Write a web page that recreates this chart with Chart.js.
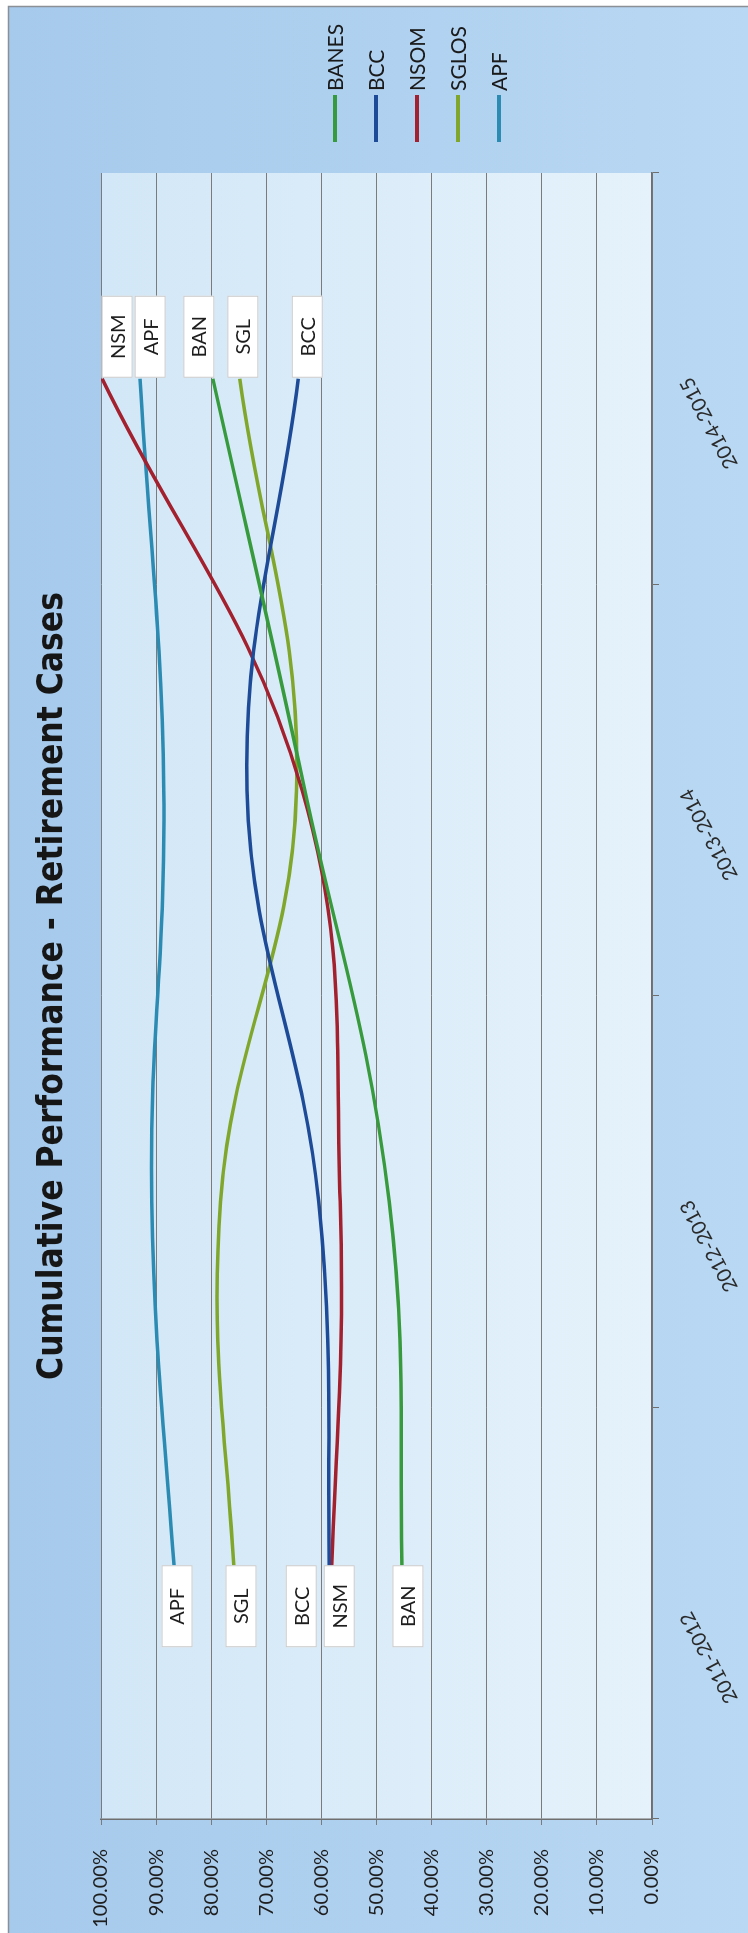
<!DOCTYPE html>
<html>
<head>
<meta charset="utf-8">
<title>Cumulative Performance - Retirement Cases</title>
<script src="https://cdn.jsdelivr.net/npm/chart.js@4.4.1/dist/chart.umd.min.js"></script>
<style>
  html, body { margin: 0; padding: 0; background: #ffffff; width: 748px; height: 1933px; overflow: hidden; }
  /* The chart is laid out landscape and turned a quarter turn anticlockwise onto the portrait page */
  #stage { position: absolute; left: 0; top: 0; width: 1933px; height: 748px;
           transform-origin: 0 0; transform: translateY(1933px) rotate(-90deg); }
  canvas { display: block; }
</style>
</head>
<body>
<div id="stage"><canvas id="chart" width="1933" height="748"></canvas></div>
<script>
// ---- data ----
const categories = ['2011-2012', '2012-2013', '2013-2014', '2014-2015'];
const seriesNames = ['BANES', 'BCC', 'NSOM', 'SGLOS', 'APF'];
const tagNames = ['BAN', 'BCC', 'NSM', 'SGL', 'APF'];
const banes = [45.2, 47.7, 63.0, 79.7];
const bcc   = [58.4, 60.5, 73.5, 64.2];
const nsom  = [58.4, 56.6, 63.5, 99.8];
const sglos = [75.5, 78.3, 64.5, 74.8];
const apf   = [86.2, 90.8, 88.6, 92.9];
const percentTicks = [0, 10, 20, 30, 40, 50, 60, 70, 80, 90, 100];

// ---- styling ----
const lineColors = ['#379A3C', '#1E4B97', '#A3212E', '#80A72C', '#2C8BB2'];
// vertical nudges (px) that keep the end tags from overlapping
const startNudge = [5, -29, 9, 5, 0];
const endNudge = [-14, 9, 15, 3, 10];
const labelFont = 'Lato, "Open Sans", "Liberation Sans", sans-serif';
const titleFont = '"Liberation Sans Narrow", "DejaVu Sans Condensed", "Liberation Sans", sans-serif';
const titleText = 'Cumulative Performance - Retirement Cases';

const seriesValues = [banes, bcc, nsom, sglos, apf];

const backdrop = {
  id: 'backdrop',
  beforeDraw(chart) {
    const { ctx, width, height, chartArea: a } = chart;
    ctx.save();
    ctx.fillStyle = '#ffffff';
    ctx.fillRect(0, 0, width, height);
    const g = ctx.createLinearGradient(0, 8, 0, height);
    g.addColorStop(0, '#A6CAEC');
    g.addColorStop(1, '#B9D8F3');
    ctx.fillStyle = g;
    ctx.fillRect(0, 8, width - 6, height - 8);
    ctx.strokeStyle = '#8b9097';
    ctx.lineWidth = 1.5;
    ctx.beginPath();
    ctx.moveTo(0, 8.5);
    ctx.lineTo(width - 6.5, 8.5);
    ctx.lineTo(width - 6.5, height);
    ctx.stroke();
    const pg = ctx.createLinearGradient(0, a.top, 0, a.bottom);
    pg.addColorStop(0, '#D2E7F7');
    pg.addColorStop(1, '#E5F2FB');
    ctx.fillStyle = pg;
    ctx.fillRect(a.left, a.top, a.right - a.left, a.bottom - a.top);
    ctx.restore();
  },
  afterDraw(chart) {
    const { ctx } = chart;
    ctx.save();
    // title, sized so the whole line spans about 780px
    ctx.font = 'bold 40px ' + titleFont;
    const size = Math.round(40 * 782 / ctx.measureText(titleText).width);
    ctx.font = 'bold ' + size + 'px ' + titleFont;
    ctx.fillStyle = '#161616';
    ctx.textAlign = 'center';
    ctx.textBaseline = 'middle';
    ctx.fillText(titleText, 947, 53);
    // legend
    ctx.font = '21px ' + labelFont;
    ctx.textAlign = 'left';
    chart.data.datasets.forEach((ds, i) => {
      const y = 335 + 41 * i;
      ctx.strokeStyle = ds.borderColor;
      ctx.lineWidth = 4;
      ctx.beginPath();
      ctx.moveTo(1791, y);
      ctx.lineTo(1838, y);
      ctx.stroke();
      ctx.fillStyle = '#1a1a1a';
      ctx.fillText(ds.label, 1842, y + 1);
    });
    ctx.restore();
  }
};

function drawTag(ctx, x, yc, text) {
  const w = 82, h = 31;
  ctx.fillStyle = '#ffffff';
  ctx.fillRect(x, yc - h / 2, w, h);
  ctx.strokeStyle = '#c9c9c9';
  ctx.lineWidth = 1;
  ctx.strokeRect(x + 0.5, yc - h / 2 + 0.5, w - 1, h - 1);
  ctx.fillStyle = '#1e1e1e';
  ctx.font = '20px ' + labelFont;
  ctx.textAlign = 'center';
  ctx.textBaseline = 'middle';
  ctx.fillText(text, x + w / 2, yc + 1);
}

const endTags = {
  id: 'endTags',
  afterDatasetsDraw(chart) {
    const ctx = chart.ctx;
    ctx.save();
    chart.data.datasets.forEach((ds, i) => {
      const pts = chart.getDatasetMeta(i).data;
      const first = pts[0], last = pts[pts.length - 1];
      drawTag(ctx, first.x - 34, first.y + startNudge[i], tagNames[i]);
      drawTag(ctx, last.x + 1, last.y + endNudge[i], tagNames[i]);
    });
    ctx.restore();
  }
};

const chart = new Chart(document.getElementById('chart'), {
  type: 'line',
  data: {
    labels: categories,
    datasets: seriesNames.map((name, i) => ({
      label: name,
      data: seriesValues[i],
      borderColor: lineColors[i],
      backgroundColor: lineColors[i],
      borderWidth: 3.5,
      pointRadius: 0,
      tension: 0.4,
      fill: false
    }))
  },
  options: {
    responsive: false,
    animation: false,
    devicePixelRatio: 1,
    layout: { padding: { left: 0, top: 101, right: 173, bottom: 0 } },
    plugins: { legend: { display: false }, title: { display: false }, tooltip: { enabled: false } },
    scales: {
      x: {
        offset: true,
        grid: { display: true, drawOnChartArea: false, drawTicks: true, tickLength: 7, offset: true, color: '#6f6f6f' },
        border: { display: true, color: '#6f6f6f', width: 1.5 },
        ticks: { minRotation: 28, maxRotation: 28, padding: 16, color: '#2a2a2a',
                 font: { family: labelFont, size: 20 } },
        afterFit(s) { s.height = 96; }
      },
      y: {
        min: 0, max: 100,
        afterBuildTicks(s) { s.ticks = percentTicks.map(v => ({ value: v })); },
        grid: { color: '#7b7b7b', lineWidth: 1, tickLength: 6 },
        border: { display: true, color: '#6f6f6f', width: 1.5 },
        ticks: { padding: 24, color: '#1e1e1e', font: { family: labelFont, size: 20 },
                 callback: v => Number(v).toFixed(2) + '%' },
        afterFit(s) { s.width = 114; }
      }
    }
  },
  plugins: [backdrop, endTags]
});

if (document.fonts && document.fonts.ready) {
  document.fonts.ready.then(() => chart.update());
}
</script>
</body>
</html>
